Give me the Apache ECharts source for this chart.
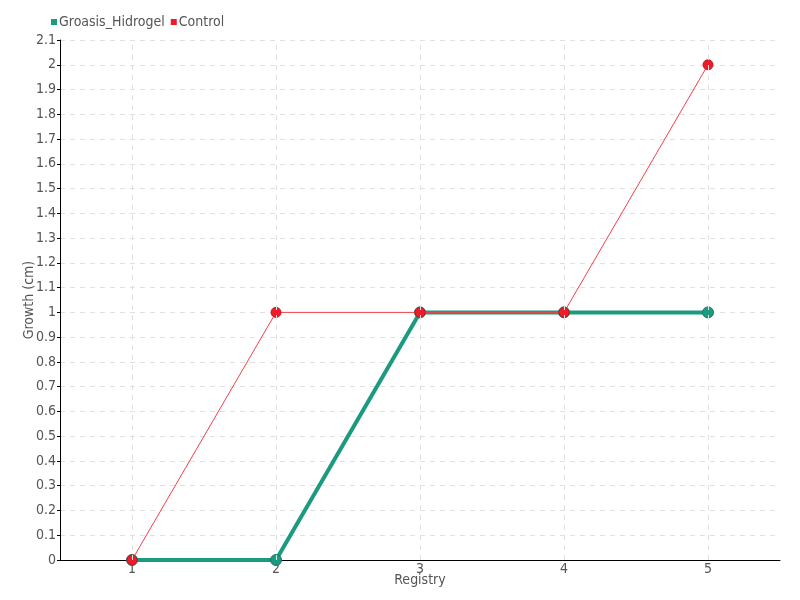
<!DOCTYPE html>
<html>
<head>
<meta charset="utf-8">
<script src="https://cdn.jsdelivr.net/npm/echarts@6/dist/echarts.min.js"></script>
<style>
  html, body { margin: 0; padding: 0; background: #fff; }
  #chart { width: 800px; height: 600px; }
</style>
</head>
<body>
<div id="chart"></div>
<script>
// registry numbers on the x axis
const registries = ['1', '2', '3', '4', '5']
// growth in cm
const groasisHidrogel = [0, 0, 1, 1, 1]
const control = [0, 1, 1, 1, 2]

const fontFamily = '"DejaVu Sans Condensed", "Liberation Sans Narrow", sans-serif'
const textColor = '#555'
const gridLine = { color: '#e0e0e0', type: [5, 5], width: 1 }

const chart = echarts.init(document.getElementById('chart'))

chart.setOption({
  animation: false,
  textStyle: { fontFamily: fontFamily },
  legend: {
    data: ['Groasis_Hidrogel', 'Control'],
    left: 46,
    top: 10,
    icon: 'rect',
    itemWidth: 6,
    itemHeight: 6,
    itemGap: 6,
    itemStyle: { borderWidth: 0 },
    textStyle: { fontFamily: fontFamily, fontSize: 14, color: textColor, padding: [0, 0, 0, -3] }
  },
  grid: {
    left: 60,
    right: 20,
    top: 40,
    bottom: 40
  },
  xAxis: {
    type: 'category',
    data: registries,
    boundaryGap: true,
    name: 'Registry',
    nameLocation: 'middle',
    nameGap: 13,
    nameMoveOverlap: false,
    nameTextStyle: { fontFamily: fontFamily, fontSize: 14, color: textColor },
    axisLine: { lineStyle: { color: '#000', width: 1 } },
    axisTick: { alignWithLabel: true, length: 5, lineStyle: { color: '#555' } },
    axisLabel: { margin: 2, fontFamily: fontFamily, fontSize: 14, color: textColor },
    splitLine: { show: false }
  },
  yAxis: {
    type: 'value',
    min: 0,
    max: 2.1,
    interval: 0.1,
    name: 'Growth (cm)',
    nameLocation: 'middle',
    nameGap: 24,
    nameMoveOverlap: false,
    nameTextStyle: { fontFamily: fontFamily, fontSize: 14, color: textColor },
    axisLine: { show: true, lineStyle: { color: '#000', width: 1 } },
    axisTick: { show: true, length: 3, lineStyle: { color: '#000' } },
    axisLabel: {
      margin: 4,
      fontFamily: fontFamily,
      fontSize: 14,
      color: textColor,
      formatter: function (v) { return String(Math.round(v * 10) / 10) }
    },
    splitLine: { show: true, lineStyle: gridLine }
  },
  series: [{
    name: 'Groasis_Hidrogel',
    type: 'line',
    data: groasisHidrogel,
    symbol: 'circle',
    symbolSize: 11,
    color: '#1b9a80',
    lineStyle: { width: 4, color: '#1b9a80' },
    itemStyle: { color: '#1b9a80', borderColor: '#177a65', borderWidth: 1 },
    // vertical dashed grid lines through each category centre
    markLine: {
      silent: true,
      symbol: 'none',
      label: { show: false },
      lineStyle: gridLine,
      data: registries.map(function (r) { return { xAxis: r } })
    },
    z: 2
  }, {
    name: 'Control',
    type: 'line',
    data: control,
    symbol: 'circle',
    symbolSize: 10,
    color: '#ec1c2a',
    lineStyle: { width: 1, color: '#f0404c' },
    itemStyle: { color: '#ec1c2a', borderColor: '#c81520', borderWidth: 1 },
    z: 3
  }]
})
</script>
</body>
</html>
